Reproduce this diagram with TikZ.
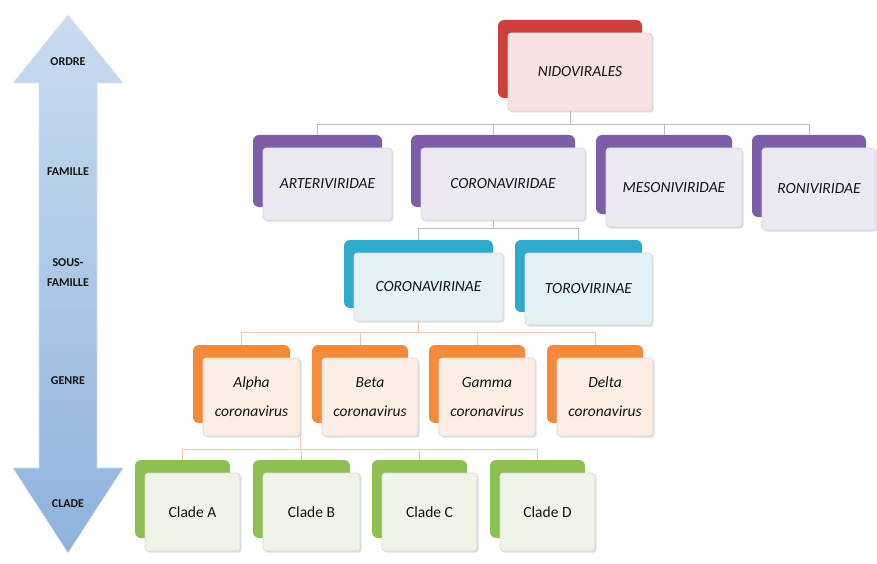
\documentclass[tikz,border=0pt]{standalone}
\usepackage{fontspec}
\setmainfont{Carlito}
\usetikzlibrary{shadows}
\definecolor{cred}{HTML}{CC3F3A}
\definecolor{cpurple}{HTML}{7B5EA7}
\definecolor{cteal}{HTML}{2EAACB}
\definecolor{corange}{HTML}{F58A3A}
\definecolor{cgreen}{HTML}{8CC152}
\definecolor{pred}{HTML}{F7E1E1}
\definecolor{ppurple}{HTML}{ECE9F2}
\definecolor{pteal}{HTML}{E4F1F5}
\definecolor{porange}{HTML}{FCEEE4}
\definecolor{pgreen}{HTML}{EFF4E8}
\definecolor{arrtop}{HTML}{C9DBF0}
\definecolor{arrbot}{HTML}{8FB2DC}
\definecolor{txt}{HTML}{141414}
\newcommand\smartpair[8]{%
  \node[backbox=#6, minimum width={#4-#2}, minimum height={#5-#3}] (#1b) at ({(#2+#4)/2},{(#3+#5)/2}) {};
  \node[frontbox=#7, minimum width={#4-#2}, minimum height={#5-#3}] (#1) at ({(#2+#4)/2+10},{(#3+#5)/2+13}) {#8};
}
\begin{document}
\begin{tikzpicture}[x=1pt,y=-1pt,
  backbox/.style={rounded corners=6pt, inner sep=0pt, fill=#1},
  frontbox/.style={rounded corners=3pt, inner sep=2pt, fill=#1, draw=gray!30, line width=0.6pt,
    drop shadow={shadow xshift=1.5pt, shadow yshift=-1.5pt, opacity=0.25},
    align=center, text=txt, font=\fontsize{15.5}{29}\selectfont\itshape},
  conn/.style={draw=gray!55, line width=0.8pt},
  connb/.style={draw={rgb,255:red,242;green,196;blue,168}, line width=0.8pt},
  lvl/.style={text=txt, align=center, font=\fontsize{12}{20}\selectfont\bfseries}]
\useasboundingbox (0,0) rectangle (877,564);
\fill[white] (0,0) rectangle (877,564);
% level arrow
\shade[top color=arrtop, bottom color=arrbot, draw=arrtop!80!white, line width=0.6pt]
  (68,15) -- (123,83) -- (97,83) -- (97,468) -- (123,468) -- (68,553) -- (13,468) -- (39,468) -- (39,83) -- (13,83) -- cycle;
\node[lvl] (lordre) at (68,62) {ORDRE};
\node[lvl] (lfam) at (68,172) {FAMILLE};
\node[lvl] (lsous) at (68,273) {SOUS-\\FAMILLE};
\node[lvl] (lgenre) at (68,381) {GENRE};
\node[lvl] (lclade) at (68,504) {CLADE};
% boxes
\smartpair{nido}{498}{20}{642}{98}{cred}{pred}{NIDOVIRALES}
\smartpair{arter}{253}{135}{382}{207}{cpurple}{ppurple}{ARTERIVIRIDAE}
\smartpair{corv}{411}{135}{575}{207}{cpurple}{ppurple}{CORONAVIRIDAE}
\smartpair{meso}{596}{135}{732}{214}{cpurple}{ppurple}{MESONIVIRIDAE}
\smartpair{roni}{752}{135}{866}{217}{cpurple}{ppurple}{RONIVIRIDAE}
\smartpair{cvin}{344}{240}{493}{308}{cteal}{pteal}{CORONAVIRINAE}
\smartpair{toro}{515}{240}{642}{312}{cteal}{pteal}{TOROVIRINAE}
\smartpair{alpha}{193}{345}{290}{423}{corange}{porange}{Alpha\\coronavirus}
\smartpair{beta}{312}{345}{408}{423}{corange}{porange}{Beta\\coronavirus}
\smartpair{gamma}{429}{345}{525}{423}{corange}{porange}{Gamma\\coronavirus}
\smartpair{delta}{547}{345}{643}{423}{corange}{porange}{Delta\\coronavirus}
\smartpair{cla}{135}{460}{230}{538}{cgreen}{pgreen}{\upshape Clade A}
\smartpair{clb}{253}{460}{350}{538}{cgreen}{pgreen}{\upshape Clade B}
\smartpair{clc}{372}{460}{467}{538}{cgreen}{pgreen}{\upshape Clade C}
\smartpair{cld}{490}{460}{585}{538}{cgreen}{pgreen}{\upshape Clade D}
% buses
\coordinate (busf) at (0,124);
\coordinate (buss) at (0,228);
\coordinate (busg) at (0,332);
\coordinate (busc) at (0,449);
% families
\draw[conn] (nidob.south |- nido.south) -- (nidob.south |- busf);
\draw[conn] (arterb.north) |- (ronib.north |- busf) -- (ronib.north);
\draw[conn] (corvb.north |- busf) -- (corvb.north);
\draw[conn] (mesob.north |- busf) -- (mesob.north);
% subfamilies
\draw[conn] (corvb.south |- corv.south) -- (corvb.south |- buss);
\draw[conn] (cvinb.north) |- (torob.north |- buss) -- (torob.north);
% genera
\draw[connb] (cvinb.south |- cvin.south) -- (cvinb.south |- busg);
\draw[connb] (alphab.north) |- (deltab.north |- busg) -- (deltab.north);
\draw[connb] (betab.north |- busg) -- (betab.north);
\draw[connb] (gammab.north |- busg) -- (gammab.north);
% clades
\draw[connb] (alpha.south east) -- (alpha.south east |- busc);
\draw[connb] (clab.north) |- (cldb.north |- busc) -- (cldb.north);
\draw[connb] (clbb.north |- busc) -- (clbb.north);
\draw[connb] (clcb.north |- busc) -- (clcb.north);
\end{tikzpicture}
\end{document}
